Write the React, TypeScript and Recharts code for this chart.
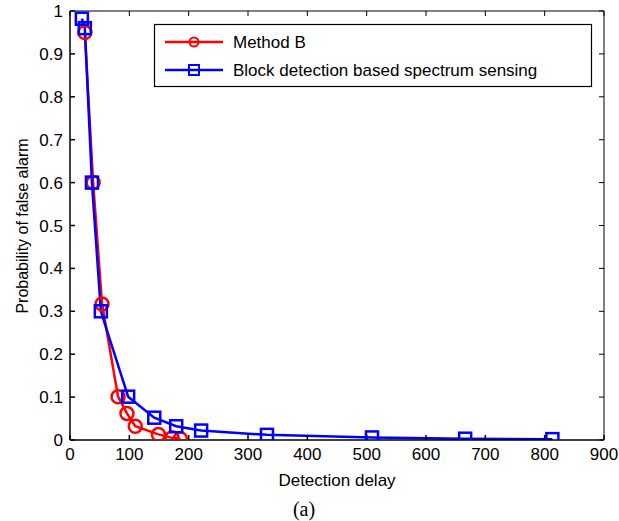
import { LineChart, Line, XAxis, YAxis, Customized } from 'recharts';

const xTicks = [0, 100, 200, 300, 400, 500, 600, 700, 800, 900];
const yTicks = [0, 0.1, 0.2, 0.3, 0.4, 0.5, 0.6, 0.7, 0.8, 0.9, 1];

const methodB = [
    { x: 25, y: 0.95 },
    { x: 39, y: 0.6 },
    { x: 54, y: 0.317 },
    { x: 81, y: 0.101 },
    { x: 96, y: 0.062 },
    { x: 110, y: 0.032 },
    { x: 149, y: 0.013 },
    { x: 172, y: 0.005 },
    { x: 186, y: 0.003 }
];

const blockDetection = [
    { x: 20, y: 0.982 },
    { x: 25, y: 0.96 },
    { x: 37, y: 0.6 },
    { x: 52, y: 0.3 },
    { x: 98, y: 0.101 },
    { x: 142, y: 0.052 },
    { x: 179, y: 0.032 },
    { x: 221, y: 0.022 },
    { x: 332, y: 0.012 },
    { x: 509, y: 0.006 },
    { x: 666, y: 0.003 },
    { x: 813, y: 0.002 }
];

const FONT = 'Liberation Sans, Arial, sans-serif';
const RED = '#ff0000';
const BLUE = '#0000ff';

const SquareDot = (props: any) => {
    const { cx, cy } = props;
    if (cx == null || cy == null) return null;
    return <rect x={cx - 6} y={cy - 6} width={12} height={12} fill="none" stroke={BLUE} strokeWidth={2.5} />;
};

// legend, axis titles and caption drawn on top of the chart
const Overlay = () => (
    <g>
        <g transform="translate(154,24)">
            <rect x={0.5} y={0.5} width={437} height={62} fill="#fff" stroke="#000" strokeWidth={1.2} />
            <line x1={11} y1={18} x2={69} y2={18} stroke={RED} strokeWidth={2.5} />
            <circle cx={40} cy={18} r={4.5} fill="none" stroke={RED} strokeWidth={2} />
            <text x={79} y={24} fontSize={17} fontFamily={FONT} fill="#000">Method B</text>
            <line x1={11} y1={46} x2={69} y2={46} stroke={BLUE} strokeWidth={2.5} />
            <rect x={35} y={41} width={10} height={10} fill="none" stroke={BLUE} strokeWidth={2} />
            <text x={79} y={52} fontSize={17} fontFamily={FONT} fill="#000">Block detection based spectrum sensing</text>
        </g>
        <text x={337} y={486} textAnchor="middle" fontSize={17} fontFamily={FONT} fill="#000">Detection delay</text>
        <text x={22} y={226} textAnchor="middle" dominantBaseline="central" fontSize={16} fontFamily={FONT} fill="#000" transform="rotate(-90 22 226)">
            Probability of false alarm
        </text>
        <text x={304} y={516} textAnchor="middle" fontSize={20} fontFamily="Liberation Serif, Times New Roman, serif" fill="#000">(a)</text>
    </g>
);

const tickStyle = { fontSize: 17, fontFamily: FONT, fill: '#000' };

export default function App() {
    return (
        <div style={{ width: 619, height: 521, background: '#fff' }}>
            <style>{`body{margin:0}`}</style>
            <LineChart width={619} height={521} margin={{ top: 10, right: 14, left: 20, bottom: 51 }}>
                <XAxis
                    xAxisId="b"
                    type="number"
                    dataKey="x"
                    domain={[0, 900]}
                    ticks={xTicks}
                    height={30}
                    tickSize={-5}
                    tickMargin={13}
                    stroke="#000"
                    strokeWidth={1.5}
                    tick={tickStyle}
                    allowDataOverflow
                />
                <XAxis
                    xAxisId="t"
                    orientation="top"
                    type="number"
                    dataKey="x"
                    domain={[0, 900]}
                    ticks={xTicks}
                    height={1}
                    tickSize={-5}
                    tickFormatter={() => ''}
                    stroke="#000"
                    allowDataOverflow
                />
                <YAxis
                    yAxisId="l"
                    type="number"
                    domain={[0, 1]}
                    ticks={yTicks}
                    width={50}
                    tickSize={-5}
                    tickMargin={12}
                    stroke="#000"
                    strokeWidth={1.5}
                    tick={tickStyle}
                    allowDataOverflow
                />
                <YAxis
                    yAxisId="r"
                    orientation="right"
                    type="number"
                    domain={[0, 1]}
                    ticks={yTicks}
                    width={1}
                    tickSize={-5}
                    tickFormatter={() => ''}
                    stroke="#000"
                    allowDataOverflow
                />
                <Line
                    xAxisId="b"
                    yAxisId="l"
                    data={methodB}
                    dataKey="y"
                    name="Method B"
                    stroke={RED}
                    strokeWidth={2.5}
                    dot={{ r: 6.5, fill: 'none', stroke: RED, strokeWidth: 2.5 }}
                    isAnimationActive={false}
                />
                <Line
                    xAxisId="b"
                    yAxisId="l"
                    data={blockDetection}
                    dataKey="y"
                    name="Block detection based spectrum sensing"
                    stroke={BLUE}
                    strokeWidth={2.5}
                    dot={<SquareDot />}
                    isAnimationActive={false}
                />
                <Customized component={<Overlay />} />
            </LineChart>
        </div>
    );
}
